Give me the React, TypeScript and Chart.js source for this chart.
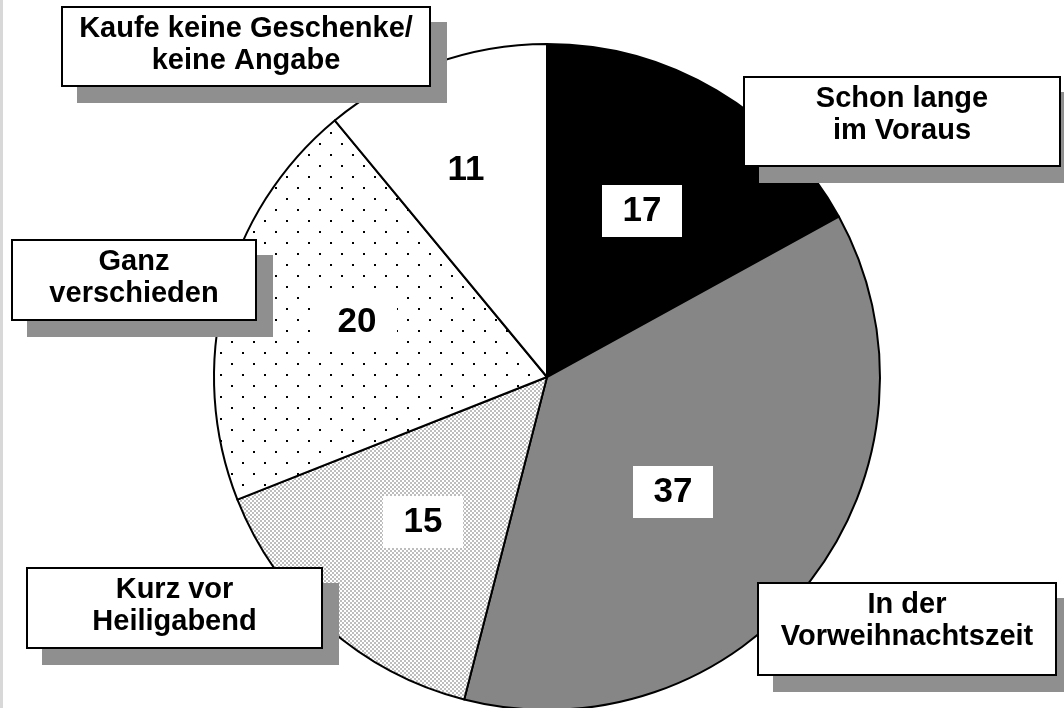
import React, { useEffect, useRef } from "react";
import { Chart, registerables } from "chart.js";

Chart.register(...registerables);

// ---- data ----
const categories = [
  "Schon lange im Voraus",
  "In der Vorweihnachtszeit",
  "Kurz vor Heiligabend",
  "Ganz verschieden",
  "Kaufe keine Geschenke/ keine Angabe",
];
const values = [17, 37, 15, 20, 11];
const calloutLines = [
  ["Schon lange", "im Voraus"],
  ["In der", "Vorweihnachtszeit"],
  ["Kurz vor", "Heiligabend"],
  ["Ganz", "verschieden"],
  ["Kaufe keine Geschenke/", "keine Angabe"],
];

// ---- layout / style ----
const FONT = '"Liberation Sans", Arial, Helvetica, sans-serif';
const calloutBoxes = [
  [743, 76, 318, 91],
  [757, 582, 300, 94],
  [26, 567, 297, 82],
  [11, 239, 246, 82],
  [61, 6, 370, 81],
];
const labelRadius = [0.574, 0.512, 0.573, 0.594, 0.667];
const labelAngleShift = [-0.8, 4.6, -0.9, 1.7, -1.6];

function makeDots(): CanvasPattern | string {
  const c = document.createElement("canvas");
  c.width = 22;
  c.height = 22;
  const g = c.getContext("2d");
  if (!g) return "#fff";
  g.fillStyle = "#fff";
  g.fillRect(0, 0, 22, 22);
  g.fillStyle = "#000";
  g.fillRect(0, 0, 2, 2);
  g.fillRect(11, 11, 2, 2);
  const p = g.createPattern(c, "repeat");
  return p || "#fff";
}

function makeChecker(): CanvasPattern | string {
  const c = document.createElement("canvas");
  c.width = 4;
  c.height = 4;
  const g = c.getContext("2d");
  if (!g) return "#e0e0e0";
  g.fillStyle = "#fff";
  g.fillRect(0, 0, 4, 4);
  g.fillStyle = "#bdbdbd";
  g.fillRect(0, 0, 2, 2);
  g.fillRect(2, 2, 2, 2);
  const p = g.createPattern(c, "repeat");
  return p || "#e0e0e0";
}

const decor = {
  id: "decor",
  beforeDraw(chart: any) {
    const ctx = chart.ctx;
    ctx.save();
    ctx.fillStyle = "#ffffff";
    ctx.fillRect(0, 0, chart.width, chart.height);
    ctx.fillStyle = "#d8d8d8";
    ctx.fillRect(0, 0, 3, chart.height);
    ctx.restore();
  },
  afterDatasetsDraw(chart: any) {
    const ctx = chart.ctx;
    ctx.save();
    const meta = chart.getDatasetMeta(0);
    meta.data.forEach((arc: any, i: number) => {
      const p = arc.getProps(["x", "y", "startAngle", "endAngle", "outerRadius"], true);
      const a = (p.startAngle + p.endAngle) / 2 + (labelAngleShift[i] * Math.PI) / 180;
      const d = p.outerRadius * labelRadius[i];
      const cx = p.x + d * Math.cos(a);
      const cy = p.y + d * Math.sin(a);
      ctx.fillStyle = "#ffffff";
      ctx.fillRect(Math.round(cx - 40), Math.round(cy - 26), 80, 52);
      ctx.fillStyle = "#000000";
      ctx.font = `bold 35px ${FONT}`;
      ctx.textAlign = "center";
      ctx.textBaseline = "alphabetic";
      ctx.fillText(String(values[i]), cx, cy + 10);
    });

    calloutBoxes.forEach((b, i) => {
      const [x, y, w, h] = b;
      ctx.fillStyle = "#8f8f8f";
      ctx.fillRect(x + 16, y + 16, w, h);
      ctx.fillStyle = "#ffffff";
      ctx.fillRect(x, y, w, h);
      ctx.strokeStyle = "#000000";
      ctx.lineWidth = 2;
      ctx.strokeRect(x + 1, y + 1, w - 2, h - 2);
      ctx.fillStyle = "#000000";
      ctx.font = `bold 29px ${FONT}`;
      ctx.textAlign = "center";
      ctx.textBaseline = "alphabetic";
      calloutLines[i].forEach((line, j) => {
        ctx.fillText(line, x + w / 2, y + 31 + j * 32);
      });
    });
    ctx.restore();
  },
};

export default function App() {
  const ref = useRef<HTMLCanvasElement | null>(null);

  useEffect(() => {
    if (!ref.current) return;
    const dots = makeDots();
    const checker = makeChecker();
    const chart = new Chart(ref.current, {
      type: "pie",
      data: {
        labels: categories,
        datasets: [
          {
            data: values,
            backgroundColor: ["#000000", "#868686", checker as any, dots as any, "#ffffff"],
            borderColor: "#000000",
            borderWidth: 2,
            borderJoinStyle: "round",
          } as any,
        ],
      },
      options: {
        responsive: false,
        animation: false,
        events: [],
        layout: { padding: { top: 43, bottom: 9, left: 213, right: 183 } },
        plugins: {
          legend: { display: false },
          tooltip: { enabled: false },
        },
      },
      plugins: [decor],
    });
    return () => chart.destroy();
  }, []);

  return (
    <div
      style={{
        position: "fixed",
        left: 0,
        top: 0,
        width: 1064,
        height: 708,
        overflow: "hidden",
        background: "#fff",
      }}
    >
      <canvas ref={ref} width={1064} height={720} style={{ display: "block", width: 1064, height: 720 }} />
    </div>
  );
}
